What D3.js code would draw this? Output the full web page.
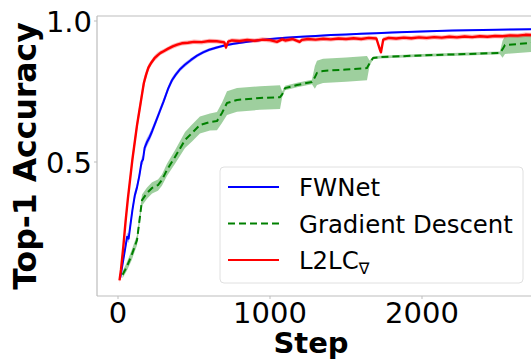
<!DOCTYPE html>
<html>
<head>
<meta charset="utf-8">
<script src="https://cdn.jsdelivr.net/npm/d3@7"></script>
<style>
  body { margin: 0; background: #fff; }
  svg { display: block; font-family: "DejaVu Sans", sans-serif; }
</style>
</head>
<body>
<svg width="531" height="360"></svg>
<script>
// [step, mean accuracy, spread]
const fwnet = [
  [15,0.09,0.01],[40,0.17,0.012],[60,0.235,0.015],[70,0.228,0.015],[80,0.27,0.015],
  [95,0.33,0.015],[110,0.38,0.015],[125,0.41,0.015],[140,0.45,0.015],[155,0.50,0.015],
  [165,0.51,0.015],[175,0.55,0.015],[190,0.57,0.015],[205,0.585,0.014],[225,0.61,0.013],
  [250,0.645,0.012],[275,0.68,0.012],[300,0.715,0.011],[330,0.76,0.01],[355,0.79,0.01],
  [380,0.81,0.009],[410,0.83,0.008],[440,0.845,0.008],[480,0.862,0.007],[520,0.877,0.006],
  [560,0.889,0.006],[600,0.898,0.005],[650,0.906,0.005],[700,0.913,0.004],[760,0.919,0.004],
  [830,0.925,0.004],[900,0.930,0.004],[1000,0.936,0.003],[1100,0.941,0.003],[1200,0.944,0.003],
  [1300,0.947,0.003],[1400,0.950,0.003],[1500,0.952,0.003],[1600,0.955,0.003],[1700,0.957,0.003],
  [1800,0.959,0.003],[1900,0.961,0.003],[2000,0.963,0.003],[2200,0.966,0.003],[2400,0.968,0.003],
  [2600,0.970,0.003],[2800,0.972,0.003],[2900,0.973,0.003]
];

const gradDescent = [
  [30,0.10,0.012],[59,0.13,0.015],[90,0.17,0.018],[125,0.223,0.018],[158,0.365,0.02],
  [191,0.39,0.02],[224,0.408,0.02],[263,0.418,0.02],[289,0.436,0.02],[322,0.472,0.022],
  [375,0.518,0.024],[441,0.578,0.028],[487,0.603,0.03],[539,0.631,0.03],[605,0.642,0.03],
  [651,0.645,0.032],[684,0.674,0.036],[717,0.709,0.042],[783,0.72,0.042],[934,0.727,0.042],
  [1066,0.73,0.042],[1080,0.74,0.01],[1099,0.762,0.008],[1178,0.773,0.008],[1276,0.784,0.008],
  [1295,0.80,0.04],[1309,0.816,0.043],[1349,0.823,0.043],[1500,0.828,0.043],[1638,0.833,0.043],
  [1655,0.85,0.01],[1678,0.869,0.005],[1724,0.872,0.005],[2000,0.878,0.005],[2300,0.883,0.005],
  [2513,0.887,0.005],[2530,0.90,0.03],[2546,0.915,0.032],[2717,0.922,0.032],[2900,0.925,0.032]
];

const l2lc = [
  [10,0.08,0.01],[20,0.12,0.015],[35,0.20,0.02],[50,0.29,0.02],[65,0.37,0.02],
  [80,0.44,0.02],[95,0.51,0.02],[110,0.57,0.02],[125,0.63,0.02],[140,0.68,0.02],
  [155,0.73,0.02],[170,0.78,0.018],[185,0.81,0.015],[200,0.835,0.012],[220,0.853,0.01],
  [240,0.868,0.01],[260,0.878,0.01],[280,0.887,0.008],[300,0.893,0.008],[330,0.902,0.008],
  [360,0.910,0.008],[390,0.916,0.008],[420,0.921,0.008],[460,0.923,0.008],[500,0.926,0.008],
  [550,0.925,0.008],[600,0.929,0.008],[650,0.928,0.008],[700,0.924,0.008],[710,0.906,0.008],
  [725,0.927,0.008],[750,0.931,0.008],[800,0.929,0.008],[850,0.933,0.008],[900,0.930,0.008],
  [950,0.934,0.008],[1000,0.932,0.008],[1046,0.926,0.008],[1080,0.935,0.008],[1100,0.931,0.008],
  [1150,0.936,0.008],[1195,0.926,0.008],[1210,0.933,0.008],[1250,0.936,0.008],[1300,0.934,0.008],
  [1350,0.937,0.008],[1400,0.935,0.008],[1450,0.938,0.008],[1500,0.936,0.008],[1550,0.939,0.008],
  [1600,0.936,0.008],[1650,0.940,0.008],[1700,0.938,0.008],[1722,0.900,0.008],[1730,0.889,0.008],
  [1745,0.934,0.008],[1780,0.940,0.008],[1830,0.938,0.008],[1880,0.941,0.008],[1930,0.939,0.008],
  [1980,0.942,0.008],[2030,0.940,0.008],[2080,0.943,0.008],[2130,0.941,0.008],[2180,0.944,0.008],
  [2230,0.942,0.008],[2280,0.945,0.008],[2330,0.943,0.008],[2380,0.946,0.008],[2430,0.944,0.008],
  [2480,0.947,0.008],[2530,0.946,0.008],[2580,0.949,0.008],[2630,0.948,0.008],[2680,0.951,0.008],
  [2730,0.950,0.008],[2780,0.952,0.008],[2830,0.951,0.008],[2880,0.953,0.008]
];

const xTicks = [0, 1000, 2000];
const yTicks = [0.5, 1.0];
const legendNames = ["FWNet", "Gradient Descent", "L2LC"];

const svg = d3.select("svg");

// plot box (right edge is cut off by the window)
const boxL = 97, boxT = 16, boxB = 296, boxR = 600;

const x = d3.scaleLinear().domain([0, 2000]).range([118, 422]);
const y = d3.scaleLinear().domain([0.5, 1.0]).range([162, 21]);

svg.append("clipPath").attr("id", "plotclip")
   .append("rect").attr("x", boxL).attr("y", boxT)
   .attr("width", boxR - boxL).attr("height", boxB - boxT);

const plot = svg.append("g").attr("clip-path", "url(#plotclip)");

const band = d3.area()
  .x(d => x(d[0]))
  .y0(d => y(d[1] - d[2]))
  .y1(d => y(d[1] + d[2]));

const line = d3.line()
  .x(d => x(d[0]))
  .y(d => y(d[1]));

const series = [
  { data: fwnet, color: "#0000ff", fill: "#0000ff", op: 0.3, dash: null, w: 2 },
  { data: gradDescent, color: "#008000", fill: "#008000", op: 0.38, dash: "7,4", w: 2 },
  { data: l2lc, color: "#ff0000", fill: "#ff0000", op: 0.3, dash: null, w: 2.4 }
];

series.forEach(s => {
  plot.append("path").attr("d", band(s.data))
      .attr("fill", s.fill).attr("fill-opacity", s.op);
  plot.append("path").attr("d", line(s.data))
      .attr("fill", "none").attr("stroke", s.color)
      .attr("stroke-width", s.w)
      .attr("stroke-dasharray", s.dash)
      .attr("stroke-linejoin", "round");
});

// frame
const frame = svg.append("g").attr("stroke", "#bdbdbd").attr("stroke-width", 1.2);
frame.append("line").attr("x1", boxL).attr("x2", boxL).attr("y1", boxT).attr("y2", boxB);
frame.append("line").attr("x1", boxL).attr("x2", boxR).attr("y1", boxT).attr("y2", boxT);
frame.append("line").attr("x1", boxL).attr("x2", boxR).attr("y1", boxB).attr("y2", boxB);

// ticks
svg.selectAll(".xt").data(xTicks).enter().append("line")
   .attr("x1", d => x(d)).attr("x2", d => x(d))
   .attr("y1", boxB).attr("y2", boxB + 3)
   .attr("stroke", "#bdbdbd");
svg.selectAll(".xl").data(xTicks).enter().append("text")
   .attr("x", d => x(d)).attr("y", 323)
   .attr("text-anchor", "middle").attr("font-size", 29)
   .text(d => d);

svg.selectAll(".yt").data(yTicks).enter().append("line")
   .attr("x1", boxL - 3).attr("x2", boxL)
   .attr("y1", d => y(d)).attr("y2", d => y(d))
   .attr("stroke", "#bdbdbd");
svg.selectAll(".yl").data(yTicks).enter().append("text")
   .attr("x", 92).attr("y", d => y(d))
   .attr("dy", "0.37em")
   .attr("text-anchor", "end").attr("font-size", 29)
   .text(d => d3.format(".1f")(d));

// axis labels
svg.append("text")
   .attr("x", 311).attr("y", 353)
   .attr("text-anchor", "middle")
   .attr("font-size", 29).attr("font-weight", "bold")
   .text("Step");

svg.append("text")
   .attr("transform", "translate(36,156) rotate(-90)")
   .attr("text-anchor", "middle")
   .attr("font-size", 31.5).attr("font-weight", "bold")
   .text("Top-1 Accuracy");

// legend
const lg = svg.append("g");
lg.append("rect")
  .attr("x", 220).attr("y", 167).attr("width", 303).attr("height", 116)
  .attr("rx", 4).attr("fill", "#fff").attr("fill-opacity", 0.85)
  .attr("stroke", "#e0e0e0");

legendNames.forEach((name, i) => {
  const s = series[i];
  const ly = 187 + i * 36.5;
  lg.append("line")
    .attr("x1", 228).attr("x2", 279).attr("y1", ly).attr("y2", ly)
    .attr("stroke", s.color).attr("stroke-width", 2)
    .attr("stroke-dasharray", s.dash);
  const t = lg.append("text")
    .attr("x", 299).attr("y", ly + 9)
    .attr("font-size", 24.4)
    .text(name);
  if (name === "L2LC") {
    t.append("tspan").attr("font-size", 16).attr("dy", 5).text("\u2207");
  }
});
</script>
</body>
</html>
